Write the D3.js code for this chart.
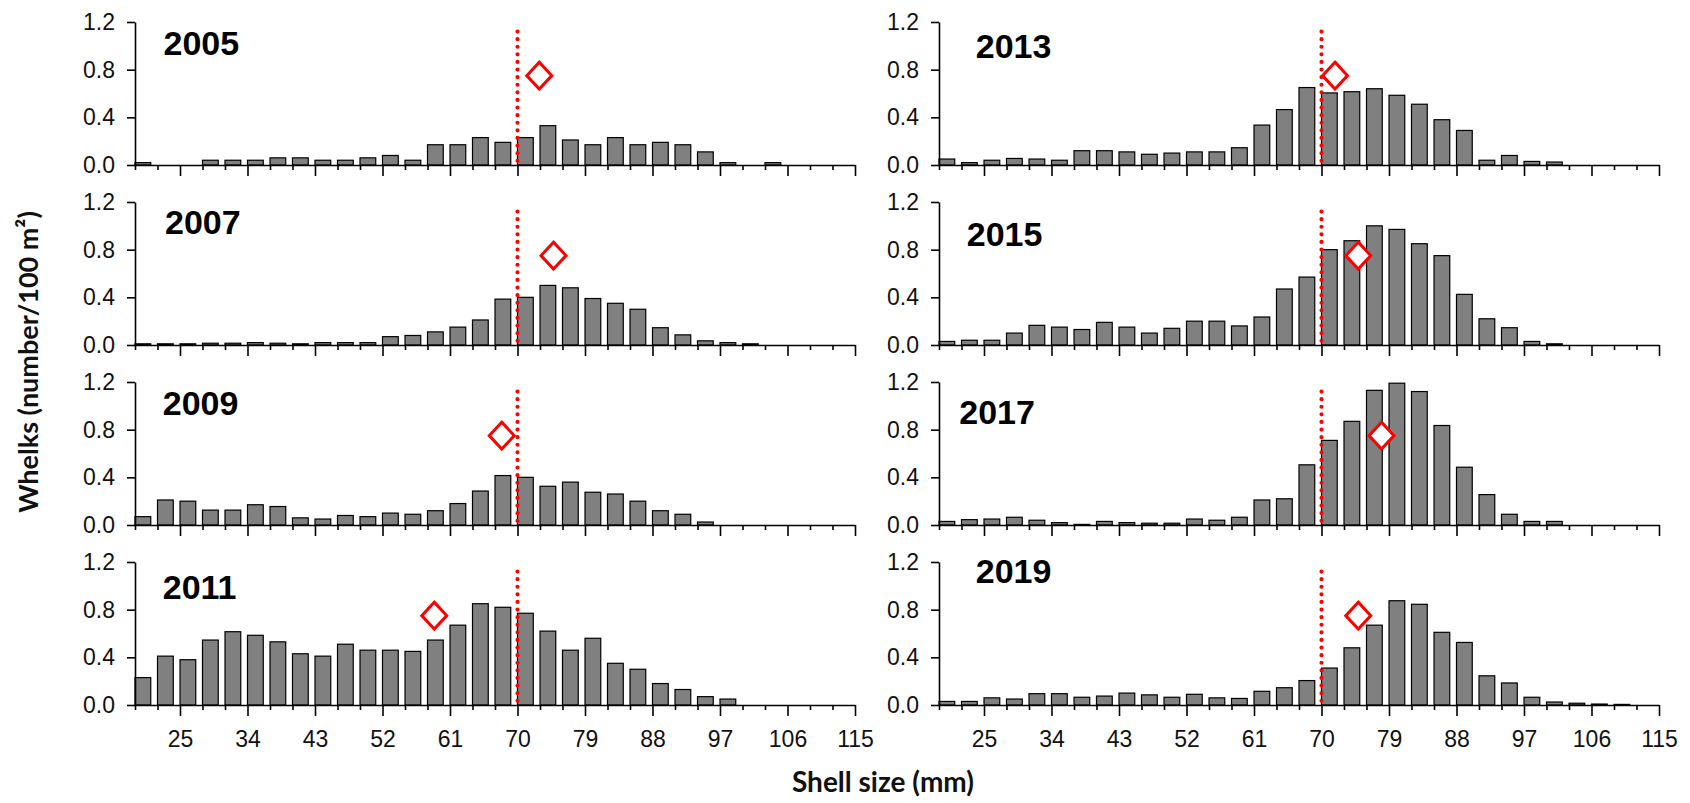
<!DOCTYPE html>
<html>
<head>
<meta charset="utf-8">
<script src="https://cdn.jsdelivr.net/npm/d3@7"></script>
<style>
  html, body { margin: 0; padding: 0; background: #fff; }
  svg { display: block; }
</style>
</head>
<body>
<script>
// Whelk size-frequency distributions by survey year (density per 3 mm shell-size class)
const binStart = [19, 22, 25, 28, 31, 34, 37, 40, 43, 46, 49, 52, 55, 58, 61, 64,
                  67, 70, 73, 76, 79, 82, 85, 88, 91, 94, 97, 100, 103, 106, 109, 112];

const years = ["2005", "2007", "2009", "2011", "2013", "2015", "2017", "2019"];

const density2005 = [0.02, 0, 0, 0.04, 0.04, 0.04, 0.06, 0.06, 0.04, 0.04, 0.06, 0.08, 0.04, 0.17, 0.17, 0.23,
                     0.19, 0.23, 0.33, 0.21, 0.17, 0.23, 0.17, 0.19, 0.17, 0.11, 0.02, 0, 0.02, 0, 0, 0];
const density2007 = [0.01, 0.01, 0.01, 0.015, 0.015, 0.02, 0.015, 0.01, 0.02, 0.02, 0.02, 0.07, 0.08, 0.11, 0.15, 0.21,
                     0.385, 0.40, 0.50, 0.48, 0.39, 0.35, 0.30, 0.145, 0.085, 0.035, 0.02, 0.01, 0, 0, 0, 0];
const density2009 = [0.07, 0.21, 0.20, 0.125, 0.125, 0.17, 0.155, 0.06, 0.05, 0.08, 0.07, 0.10, 0.09, 0.12, 0.18, 0.285,
                     0.415, 0.40, 0.325, 0.36, 0.275, 0.26, 0.20, 0.12, 0.09, 0.025, 0, 0, 0, 0, 0, 0];
const density2011 = [0.23, 0.41, 0.38, 0.545, 0.615, 0.585, 0.53, 0.43, 0.41, 0.51, 0.46, 0.46, 0.45, 0.545, 0.67, 0.85,
                     0.82, 0.77, 0.62, 0.46, 0.56, 0.35, 0.30, 0.18, 0.13, 0.07, 0.05, 0, 0, 0, 0, 0];
const density2013 = [0.05, 0.02, 0.04, 0.055, 0.05, 0.04, 0.12, 0.12, 0.11, 0.09, 0.10, 0.11, 0.11, 0.145, 0.335, 0.465,
                     0.65, 0.605, 0.615, 0.64, 0.585, 0.51, 0.38, 0.29, 0.04, 0.08, 0.03, 0.025, 0, 0, 0, 0];
const density2015 = [0.03, 0.04, 0.04, 0.10, 0.165, 0.15, 0.13, 0.19, 0.15, 0.10, 0.14, 0.20, 0.20, 0.16, 0.235, 0.47,
                     0.57, 0.80, 0.875, 1.00, 0.97, 0.85, 0.75, 0.425, 0.22, 0.145, 0.03, 0.01, 0, 0, 0, 0];
const density2017 = [0.03, 0.045, 0.05, 0.065, 0.04, 0.02, 0.005, 0.03, 0.02, 0.015, 0.015, 0.05, 0.04, 0.065, 0.21, 0.22,
                     0.505, 0.71, 0.87, 1.13, 1.19, 1.12, 0.835, 0.485, 0.255, 0.09, 0.03, 0.03, 0, 0, 0, 0];
const density2019 = [0.03, 0.03, 0.06, 0.05, 0.095, 0.095, 0.065, 0.075, 0.10, 0.085, 0.065, 0.09, 0.06, 0.055, 0.115, 0.145,
                     0.205, 0.31, 0.48, 0.67, 0.875, 0.845, 0.61, 0.525, 0.245, 0.185, 0.065, 0.025, 0.015, 0.008, 0.005, 0];

const densities = [density2005, density2007, density2009, density2011,
                   density2013, density2015, density2017, density2019];

// Mean shell size (mm) per year, shown as an open diamond at a fixed height
const meanSize = [72.9, 74.8, 67.9, 58.9, 71.8, 74.9, 78.0, 74.9];
const meanMarkerLevel = 0.75;

// Minimum legal size (mm) and the height reached by its reference line
const legalSize = 70;
const legalLineTop = 1.12;

const xMajorTicks = [25, 34, 43, 52, 61, 70, 79, 88, 97, 106, 115];
const xMinorTicks = [19, 22, 28, 31, 37, 40, 46, 49, 55, 58, 64, 67, 73, 76, 82, 85, 91, 94, 100, 103, 109, 112];
const yTicks = [0, 0.4, 0.8, 1.2];

// Year label anchor (shell size mm, density) within each panel
const yearLabelAt = [[22.8, 0.92], [23.0, 0.93], [22.7, 0.92], [22.7, 0.89],
                     [23.9, 0.90], [22.7, 0.83], [21.7, 0.85], [23.9, 1.02]];

// ---- layout ----
const W = 1690, H = 803;
const colLeft = [135, 939];
const rowTop = [22, 202, 382, 562];
const panelW = 720, panelH = 143;
const barWidthMM = 2.1;

const svg = d3.select("body").append("svg")
  .attr("width", W).attr("height", H)
  .style("font-family", "'Liberation Sans', Arial, sans-serif");

const x = d3.scaleLinear().domain([19, 115]).range([0, panelW]);
const y = d3.scaleLinear().domain([0, 1.2]).range([panelH, 0]);

// open diamond symbol, slightly taller than wide
const openDiamond = {
  draw(ctx, size) {
    const hw = Math.sqrt(size) * 0.5, hh = hw * 1.08;
    ctx.moveTo(0, -hh); ctx.lineTo(hw, 0); ctx.lineTo(0, hh); ctx.lineTo(-hw, 0); ctx.closePath();
  }
};

years.forEach((yr, k) => {
  const col = k < 4 ? 0 : 1;
  const row = k % 4;
  const g = svg.append("g").attr("transform", `translate(${colLeft[col]},${rowTop[row]})`);
  const vals = densities[k];

  // bars
  g.append("g").selectAll("rect")
    .data(binStart.map((b, i) => ({ b, v: vals[i] })).filter(d => d.v > 0))
    .join("rect")
    .attr("x", d => x(d.b))
    .attr("width", d => x(d.b + barWidthMM) - x(d.b))
    .attr("y", d => y(d.v))
    .attr("height", d => y(0) - y(d.v))
    .attr("fill", "#808080")
    .attr("stroke", "#000")
    .attr("stroke-width", 1.2);

  // y axis
  const ya = g.append("g")
    .call(d3.axisLeft(y).tickValues(yTicks).tickFormat(d3.format(".1f"))
      .tickSize(8).tickSizeOuter(0).tickPadding(12));
  ya.selectAll("text").attr("font-size", 23).attr("fill", "#111");

  // x axis: major ticks (labels on the bottom row only) and minor ticks
  const xa = g.append("g").attr("transform", `translate(0,${panelH})`)
    .call(d3.axisBottom(x).tickValues(xMajorTicks).tickSize(11).tickSizeOuter(0).tickPadding(15)
      .tickFormat(row === 3 ? d3.format("d") : ""));
  xa.selectAll("text").attr("font-size", 23).attr("fill", "#111");
  g.append("g").attr("transform", `translate(0,${panelH})`)
    .call(d3.axisBottom(x).tickValues(xMinorTicks).tickSize(5).tickSizeOuter(0).tickFormat(""))
    .select(".domain").remove();

  g.selectAll(".domain, .tick line").attr("stroke", "#000").attr("stroke-width", 1.6);

  // minimum legal size line
  g.append("line")
    .attr("x1", x(legalSize)).attr("x2", x(legalSize))
    .attr("y1", y(legalLineTop)).attr("y2", y(0) + 2)
    .attr("stroke", "#ff0000").attr("stroke-width", 4.2)
    .attr("stroke-linecap", "round").attr("stroke-dasharray", "0 7.6");

  // mean size marker
  g.append("path")
    .attr("transform", `translate(${x(meanSize[k])},${y(meanMarkerLevel)})`)
    .attr("d", d3.symbol().type(openDiamond).size(25 * 25)())
    .attr("fill", "#fff").attr("stroke", "#ff0000").attr("stroke-width", 3);

  // year label
  g.append("text")
    .attr("x", x(yearLabelAt[k][0])).attr("y", y(yearLabelAt[k][1]))
    .attr("font-size", 34).attr("font-weight", "bold").attr("fill", "#000")
    .text(yr);
});

// axis titles
svg.append("text")
  .attr("transform", "translate(38,362) rotate(-90)")
  .attr("text-anchor", "middle")
  .style("font-family", "Lato, 'Open Sans', sans-serif")
  .attr("font-size", 27).attr("font-weight", "bold").attr("fill", "#111")
  .text("Whelks (number/100 m²)");

svg.append("text")
  .attr("x", 883).attr("y", 792)
  .attr("text-anchor", "middle")
  .style("font-family", "Lato, 'Open Sans', sans-serif")
  .attr("font-size", 28).attr("font-weight", "bold").attr("fill", "#111")
  .text("Shell size (mm)");
</script>
</body>
</html>
